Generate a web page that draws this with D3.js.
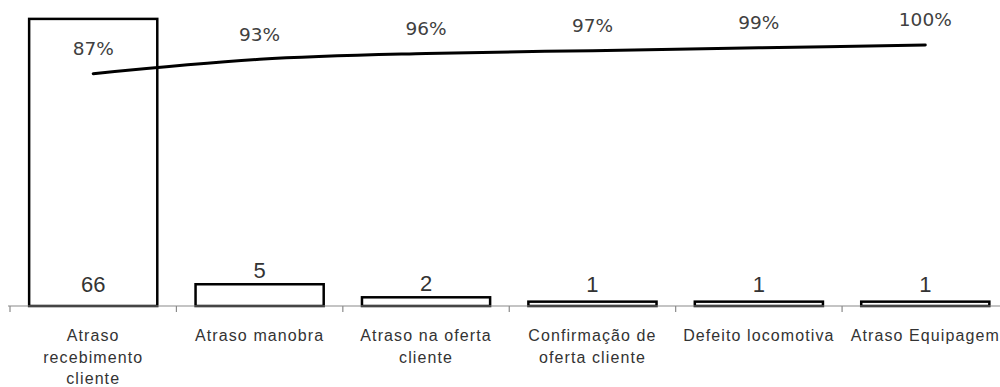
<!DOCTYPE html>
<html>
<head>
<meta charset="utf-8">
<script src="https://cdn.jsdelivr.net/npm/d3@7"></script>
<style>
  html, body { margin: 0; padding: 0; background: #fff; }
  svg { display: block; }
</style>
</head>
<body>
<svg id="chart" width="1000" height="387"></svg>
<script>
const categories = [
  "Atraso recebimento cliente",
  "Atraso manobra",
  "Atraso na oferta cliente",
  "Confirmação de oferta cliente",
  "Defeito locomotiva",
  "Atraso Equipagem"
];
const categoryLines = [
  ["Atraso", "recebimento", "cliente"],
  ["Atraso manobra"],
  ["Atraso na oferta", "cliente"],
  ["Confirmação de", "oferta cliente"],
  ["Defeito locomotiva"],
  ["Atraso Equipagem"]
];
const counts = [66, 5, 2, 1, 1, 1];
const cumulative = [0.868, 0.934, 0.961, 0.974, 0.987, 1.0];

const svg = d3.select("#chart");
const axisY = 306, topY = 1.5, left = 10, right = 1008.5;

const x = d3.scaleBand().domain(categories).range([left, right])
  .paddingInner(0.23).paddingOuter(0.115);
const xCat = d3.scaleBand().domain(categories).range([left, right]).padding(0);
const y = d3.scaleLinear().domain([0, 70]).range([axisY, topY]);
const y2 = d3.scaleLinear().domain([-0.2, 1.2]).range([axisY, topY]);

// bars
svg.append("g").selectAll("rect").data(categories).join("rect")
  .attr("x", d => x(d))
  .attr("y", (d, i) => y(counts[i]))
  .attr("width", x.bandwidth())
  .attr("height", (d, i) => axisY - y(counts[i]))
  .attr("fill", "#fff")
  .attr("stroke", "#000")
  .attr("stroke-width", 2.5);

// x axis
const xAxis = d3.axisBottom(xCat).tickSize(0).tickFormat("");
const gx = svg.append("g").attr("transform", `translate(0,${axisY})`).call(xAxis);
gx.select(".domain").attr("stroke", "#8a8a8a").attr("stroke-width", 1.2)
  .attr("d", `M${left - 2},0H1000`);
const boundaries = categories.map(c => xCat(c));
gx.selectAll("line.bnd").data(boundaries).join("line").attr("class", "bnd")
  .attr("x1", d => d).attr("x2", d => d).attr("y1", 0).attr("y2", 6)
  .attr("stroke", "#8a8a8a").attr("stroke-width", 1.2);

// category labels
const labG = svg.append("g");
categories.forEach((c, i) => {
  const t = labG.append("text")
    .attr("x", xCat(c) + xCat.bandwidth() / 2)
    .attr("y", 341)
    .attr("text-anchor", "middle")
    .attr("font-family", "Liberation Sans, Arial, sans-serif")
    .attr("font-size", 16)
    .attr("letter-spacing", 1.1)
    .attr("fill", "#333");
  categoryLines[i].forEach((ln, j) => {
    t.append("tspan").attr("x", xCat(c) + xCat.bandwidth() / 2)
      .attr("dy", j === 0 ? 0 : 21.5).text(ln);
  });
});

// bar value labels
function labelY(v) {
  const top = y(v) - 14;
  if (top < 20) return axisY - 22;      // tall bar: label placed inside near base
  return Math.min(top, axisY - 22);
}
svg.append("g").selectAll("text").data(categories).join("text")
  .attr("x", d => x(d) + x.bandwidth() / 2)
  .attr("y", (d, i) => labelY(counts[i]))
  .attr("dy", "0.35em")
  .attr("text-anchor", "middle")
  .attr("font-family", "Liberation Sans, Arial, sans-serif")
  .attr("font-size", 22)
  .attr("fill", "#333")
  .text((d, i) => counts[i]);

// cumulative line
const pts = categories.map((c, i) => [x(c) + x.bandwidth() / 2, y2(cumulative[i])]);
svg.append("path")
  .attr("d", d3.line().curve(d3.curveCatmullRom.alpha(0.5))(pts))
  .attr("fill", "none")
  .attr("stroke", "#000")
  .attr("stroke-width", 3)
  .attr("stroke-linecap", "round");

// percentage labels
const fmt = d3.format(".0%");
svg.append("g").selectAll("text").data(categories).join("text")
  .attr("x", (d, i) => pts[i][0])
  .attr("y", (d, i) => pts[i][1] - 25)
  .attr("dy", "0.35em")
  .attr("text-anchor", "middle")
  .attr("font-family", "DejaVu Sans, sans-serif")
  .attr("font-size", 18.5)
  .attr("fill", "#404040")
  .text((d, i) => fmt(cumulative[i]));
</script>
</body>
</html>
